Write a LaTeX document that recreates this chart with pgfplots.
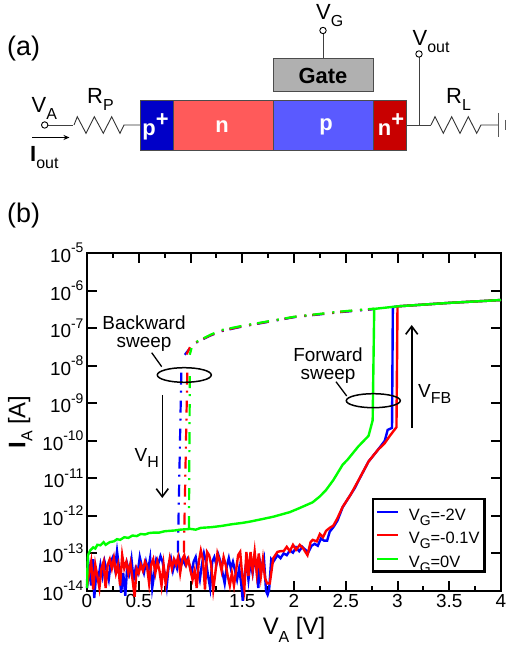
\documentclass[border=0pt]{standalone}
\usepackage{pgfplots}
\pgfplotsset{compat=1.18}
\usepackage{fontspec}
\setmainfont{Liberation Sans}
\usetikzlibrary{arrows.meta}
\newcommand\fs[1]{\fontsize{#1}{#1}\selectfont}
\newcommand\tenexp[1]{10\raisebox{0.5em}{\fs{14}#1}}
\newcommand\dn[1]{\raisebox{-0.3em}{\fs{16}#1}}
\newcommand\ldn[1]{\raisebox{-0.32em}{\fs{14}#1}}
\newcommand\lrow[1]{\rule[-9bp]{0pt}{27bp}\hspace{8bp}#1}
\definecolor{myblue}{RGB}{0,0,255}
\definecolor{myred}{RGB}{255,0,0}
\definecolor{mygreen}{RGB}{0,255,0}
\begin{document}
\begin{tikzpicture}
\useasboundingbox (0,0) rectangle (506bp,645bp);
\begin{axis}[
  at={(87bp,54bp)}, anchor=south west, scale only axis, width=414bp, height=338bp,
  ymode=log, xmin=0, xmax=4, ymin=1e-14, ymax=1e-5, clip=false,
  xtick={0,0.5,1,1.5,2,2.5,3,3.5,4},
  xticklabels={0,0.5,1,1.5,2,2.5,3,3.5,4},
  minor xtick={0.25,0.75,1.25,1.75,2.25,2.75,3.25,3.75},
  ytick={1e-14,1e-13,1e-12,1e-11,1e-10,1e-9,1e-8,1e-7,1e-6,1e-5},
  yticklabels={\tenexp{-14},\tenexp{-13},\tenexp{-12},\tenexp{-11},\tenexp{-10},\tenexp{-9},\tenexp{-8},\tenexp{-7},\tenexp{-6},\tenexp{-5}},
  yminorticks=false,
  tick align=inside, major tick length=10bp, minor tick length=5bp,
  tick style={line width=2bp,black},
  axis line style={line width=2.5bp,black},
  tick label style={font=\fs{19}},
  xlabel={V\dn{A} [V]}, ylabel={\textbf{I}\dn{A} [A]},
  label style={font=\fs{24}},
  xlabel style={at={(axis description cs:0.5,0)},anchor=north,yshift=-23bp},
  ylabel style={at={(axis description cs:0,0.5)},anchor=south,yshift=51bp},
  legend style={at={(axis cs:2.751,3e-12)},anchor=north west,draw=black,line width=2.2bp,fill=white,
    inner xsep=3bp,inner ysep=1bp,font=\fs{16.5},row sep=0bp},
  legend cell align=left,
  legend image code/.code={\draw[#1,line width=2bp] (0bp,0bp) -- (21bp,0bp);},
]
\pgfplotsset{ddash/.style={forget plot,line width=2.2bp,dash pattern=on 12bp off 8bp on 2bp off 6bp},
  ddup/.style={forget plot,line width=2.2bp,dash pattern=on 2bp off 6bp on 12bp off 8bp}}
% backward sweeps, dash-dotted
\addplot[myblue,ddash] coordinates {(0.878,1.05e-13)(0.912,8.7e-9)};
\addplot[myblue,forget plot,line width=2.2bp] coordinates {(0.945,1.95e-8)(0.995,2.95e-8)};
\addplot[myred,ddash] coordinates {(0.936,1.05e-13)(0.97,8.7e-9)};
\addplot[myred,forget plot,line width=2.2bp] coordinates {(0.962,2.0e-8)(0.995,3.1e-8)};
\addplot[mygreen,ddash] coordinates {(0.985,4.7e-13)(0.994,8.7e-9)};
\addplot[mygreen,forget plot,line width=2.2bp] coordinates {(0.993,1.95e-8)(1.01,2.95e-8)};
\addplot[myblue,ddup] coordinates {(1.055,4.1e-8)(1.19,6.3e-8)(1.3,8.3e-8)(1.5,1.1e-7)(2,1.95e-7)(2.44,2.65e-7)(2.775,3.2e-7)};
\addplot[myred,ddup] coordinates {(1.055,4.2e-8)(1.19,6.4e-8)(1.3,8.5e-8)(1.5,1.12e-7)(2,1.98e-7)(2.44,2.7e-7)(2.775,3.25e-7)};
\addplot[mygreen,ddup] coordinates {(1.058,4.3e-8)(1.19,6.6e-8)(1.3,8.9e-8)(1.5,1.15e-7)(2,2e-7)(2.44,2.75e-7)(2.775,3.3e-7)};
% forward sweeps
\addplot[myblue,line width=2.4bp] coordinates {
(0,1.2e-14)(0.02,4e-14)(0.04,1.4e-14)(0.06,7e-14)(0.07,6.5e-15)(0.09,3e-14)(0.11,2.2e-14)(0.13,5e-14)(0.15,2.5e-14)(0.17,6e-14)(0.19,3.5e-14)(0.21,2e-14)(0.23,6e-14)(0.25,8e-14)(0.27,4e-14)(0.29,1.15e-13)(0.31,4e-14)(0.33,9e-15)(0.35,3e-14)(0.37,7.5e-15)(0.39,5e-14)(0.41,3e-14)(0.43,7e-14)(0.45,2e-14)(0.47,4e-14)(0.49,3e-14)(0.51,8e-14)(0.53,4.5e-14)(0.55,3e-14)(0.57,6e-14)(0.59,3.5e-14)(0.61,7.5e-14)(0.63,1.2e-14)(0.65,3e-14)(0.67,7e-14)(0.69,5.5e-14)(0.71,8.5e-14)(0.73,6e-14)(0.75,3e-14)(0.77,1.3e-14)(0.79,5e-14)(0.81,7.5e-14)(0.83,3.5e-14)(0.85,6e-14)(0.87,4e-14)(0.89,8e-14)(0.91,5e-14)(0.93,6.5e-14)(0.95,5e-14)(0.97,7e-14)(0.99,5e-14)(1.01,3e-14)(1.03,6e-14)(1.05,8e-14)(1.07,3.5e-14)(1.09,2e-14)(1.11,5e-14)(1.13,1e-13)(1.15,6e-14)(1.17,2.5e-14)(1.19,1.2e-14)(1.21,6e-14)(1.23,8e-14)(1.25,5e-14)(1.27,9e-14)(1.29,6e-14)(1.31,3e-14)(1.33,1.6e-14)(1.35,4.5e-14)(1.37,7.5e-14)(1.39,4e-14)(1.41,6e-14)(1.43,3.5e-14)(1.45,2e-14)(1.47,4e-14)(1.49,1.6e-14)(1.505,5.5e-15)(1.52,2.5e-14)(1.54,6e-14)(1.56,2e-14)(1.58,6e-14)(1.60,3e-14)(1.62,8.5e-14)(1.64,3.5e-14)(1.655,1.2e-14)(1.67,6.5e-14)(1.69,4e-14)(1.71,7e-14)(1.73,1e-14)(1.745,8e-15)(1.76,1.1e-14)(1.78,7e-14)(1.80,6e-14)(1.84,9e-14)(1.87,7.5e-14)(1.90,1e-13)(1.93,9e-14)(1.96,1.2e-13)(1.99,1.05e-13)(2.02,1.45e-13)(2.05,1.15e-13)(2.08,1.5e-13)(2.11,1.25e-13)(2.14,1.1e-13)(2.17,1.6e-13)(2.2,1.8e-13)(2.23,1.6e-13)(2.26,2.5e-13)(2.29,2.2e-13)(2.32,2.2e-13)(2.345,3.8e-13)(2.38,5e-13)(2.42,7.5e-13)(2.47,1.7e-12)(2.55,3.8e-12)(2.587,5.5e-12)(2.635,1e-11)(2.72,2.8e-11)(2.81,5.7e-11)(2.877,1e-10)(2.905,1.95e-10)(2.947,2.2e-10)(2.955,3.6e-7)(3.0,3.8e-7)(3.5,4.7e-7)(4,5.6e-7)};
\addlegendentry{\lrow{V\ldn{G}=-2V}}
\addplot[myred,line width=2.4bp] coordinates {
(0,1.4e-14)(0.02,3e-14)(0.04,6e-14)(0.06,1.1e-14)(0.08,5e-14)(0.10,2.5e-14)(0.12,1.2e-14)(0.14,4e-14)(0.16,6e-14)(0.18,1.2e-14)(0.20,5e-14)(0.22,7e-14)(0.24,4e-14)(0.26,7.5e-14)(0.28,3e-14)(0.30,5e-14)(0.32,1.4e-14)(0.34,9e-14)(0.36,4e-14)(0.38,6e-14)(0.40,3e-14)(0.42,5.5e-14)(0.44,2e-14)(0.46,7e-15)(0.48,4e-14)(0.50,3e-14)(0.52,5e-14)(0.54,3.5e-14)(0.56,6e-14)(0.58,4.5e-14)(0.60,1.6e-14)(0.62,5e-14)(0.64,7e-14)(0.66,3e-14)(0.68,6e-14)(0.70,3.5e-14)(0.72,1.4e-14)(0.74,5e-14)(0.76,1.6e-14)(0.78,3.5e-14)(0.80,7.5e-14)(0.82,4e-14)(0.84,7e-14)(0.86,5e-14)(0.88,8e-14)(0.90,3e-14)(0.92,7e-14)(0.94,9e-14)(0.96,5e-14)(0.98,7e-14)(1.00,3.5e-14)(1.02,2e-14)(1.04,3.5e-14)(1.06,1.2e-14)(1.08,6e-14)(1.10,1.2e-13)(1.12,7e-14)(1.14,1.1e-14)(1.16,1.1e-13)(1.18,9e-14)(1.20,5e-14)(1.22,1.1e-14)(1.24,3e-14)(1.26,1e-13)(1.28,6.5e-14)(1.30,3.5e-14)(1.32,8e-14)(1.34,5e-14)(1.36,2.5e-14)(1.38,1.4e-14)(1.40,3e-14)(1.42,1.4e-14)(1.44,3.5e-14)(1.46,9e-14)(1.48,1.1e-13)(1.50,2.5e-14)(1.52,1.1e-14)(1.54,1.1e-13)(1.56,2.5e-14)(1.58,1.1e-13)(1.60,3.5e-14)(1.62,1.1e-13)(1.64,3e-14)(1.66,1e-13)(1.68,2.5e-14)(1.70,7e-14)(1.72,2.2e-14)(1.74,1.6e-14)(1.766,1.6e-14)(1.80,7.5e-14)(1.84,1.1e-13)(1.87,1.15e-13)(1.90,1.15e-13)(1.93,1.5e-13)(1.96,1.15e-13)(1.99,1.7e-13)(2.02,1.25e-13)(2.056,1.7e-13)(2.09,1.35e-13)(2.13,9e-14)(2.16,2e-13)(2.18,2.3e-13)(2.22,2.1e-13)(2.25,3.3e-13)(2.28,2.7e-13)(2.31,4e-13)(2.345,4.8e-13)(2.38,5.5e-13)(2.42,8.7e-13)(2.47,1.74e-12)(2.55,3.8e-12)(2.635,1.02e-11)(2.72,2.8e-11)(2.81,5.7e-11)(2.877,8.7e-11)(2.93,1.4e-10)(2.99,2.3e-10)(3.0,3.8e-7)(3.5,4.7e-7)(4,5.6e-7)};
\addlegendentry{\lrow{V\ldn{G}=-0.1V}}
\addplot[mygreen,line width=2.4bp] coordinates {
(0,1.2e-14)(0.005,5e-14)(0.01,9e-14)(0.03,1.2e-13)(0.06,1.45e-13)(0.08,1.35e-13)(0.10,1.7e-13)(0.13,1.65e-13)(0.16,2e-13)(0.18,1.7e-13)(0.22,2e-13)(0.26,2.1e-13)(0.29,2.4e-13)(0.32,2.3e-13)(0.36,2.7e-13)(0.40,2.6e-13)(0.44,3e-13)(0.48,2.9e-13)(0.52,3.3e-13)(0.56,3.2e-13)(0.60,3.5e-13)(0.65,3.6e-13)(0.70,3.6e-13)(0.75,3.9e-13)(0.80,4e-13)(0.85,4.1e-13)(0.90,4.3e-13)(1.0,4.5e-13)(1.05,4.3e-13)(1.1,4.8e-13)(1.2,5e-13)(1.3,5.4e-13)(1.4,6e-13)(1.5,6.5e-13)(1.57,7e-13)(1.7,8.3e-13)(1.8,9.5e-13)(1.96,1.26e-12)(2.05,1.6e-12)(2.18,2.3e-12)(2.25,3.3e-12)(2.31,4.9e-12)(2.38,9e-12)(2.47,2.3e-11)(2.52,3.2e-11)(2.62,7e-11)(2.72,1.35e-10)(2.76,3.5e-10)(2.775,3.25e-7)(3.0,3.8e-7)(3.5,4.7e-7)(4,5.6e-7)};
\addlegendentry{\lrow{V\ldn{G}=0V}}
\end{axis}
\begin{scope}[shift={(0,645bp)},y=-1bp,x=1bp]
% schematic
\tikzset{wire/.style={line width=0.8bp,black!75},zig/.style={line width=0.9bp,black!80}}
\draw[wire] (48,125)--(73,125);
\draw[zig] (74,125)--(77.3,116.7)--(86,133.3)--(94.3,116.7)--(103.3,133.3)--(111.7,116.7)--(120,133.3)--(124,125)--(140.3,125);
\draw[wire] (406.7,125)--(431,125);
\draw[zig] (431,125)--(435,116.7)--(443.3,133.3)--(451.7,116.7)--(460,133.3)--(468.3,116.7)--(476.7,133.3)--(481,125)--(498,125);
\draw[line width=1.5bp,black!65] (498.3,113)--(498.3,137);
\draw[line width=1.5bp,black!65] (505.3,120)--(505.3,130);
\draw[wire] (419,125)--(419,57);
\draw[wire] (323,58)--(323,34);
\draw[line width=0.9bp,black,fill=white] (44.7,125) circle (3.2);
\draw[line width=0.9bp,black,fill=white] (419,54) circle (3.2);
\draw[line width=0.9bp,black,fill=white] (323,30.5) circle (3.2);
\draw[line width=1bp,-{Stealth[length=6bp,width=5bp]}] (32,137.5)--(69.5,137.5);
\tikzset{box/.style={draw=black!70,line width=0.8bp}}
\fill[fill={rgb,255:red,0;green,0;blue,200},box] (140.3,100) rectangle (173.7,150);
\fill[fill={rgb,255:red,255;green,90;blue,90},box] (173.7,100) rectangle (273.3,150);
\fill[fill={rgb,255:red,90;green,90;blue,255},box] (273.3,100) rectangle (373,150);
\fill[fill={rgb,255:red,200;green,0;blue,0},box] (373,100) rectangle (406.7,150);
\fill[fill={rgb,255:red,176;green,176;blue,176},box] (273.3,58.5) rectangle (373,91.7);
\node[font=\fs{22}\bfseries] at (323,76) {Gate};
\node[font=\fs{22}\bfseries,text=white] at (155.5,127) {p\raisebox{0.42em}{+}};
\node[font=\fs{22}\bfseries,text=white] at (222,127) {n};
\node[font=\fs{22}\bfseries,text=white] at (326,127) {p};
\node[font=\fs{22}\bfseries,text=white] at (391,124.5) {n\raisebox{0.42em}{+}};
\node[font=\fs{27},anchor=west,inner sep=0] at (7,49) {(a)};
\node[font=\fs{27},anchor=west,inner sep=0] at (7,216) {(b)};
\node[font=\fs{22},anchor=base west,inner sep=0] at (31.5,113) {V\dn{A}};
\node[font=\fs{22},anchor=base west,inner sep=0] at (87,104) {R\dn{P}};
\node[font=\fs{22},anchor=base west,inner sep=0] at (30,161.5) {\textbf{I}\dn{out}};
\node[font=\fs{22},anchor=base west,inner sep=0] at (316,20) {V\dn{G}};
\node[font=\fs{22},anchor=base west,inner sep=0] at (412.5,46) {V\dn{out}};
\node[font=\fs{22},anchor=base west,inner sep=0] at (446,104) {R\dn{L}};
% annotations
\node[font=\fs{19},align=center,inner sep=0] at (144,333.5) {Backward\\[-1bp]sweep};
\node[font=\fs{19},align=center,inner sep=0] at (328,366) {Forward\\[-1bp]sweep};
\draw[line width=1.3bp] (151.7,352.7)--(161.7,366.7);
\draw[line width=1.5bp] (184.3,375) ellipse (27 and 7.3);
\draw[line width=1.3bp] (336,381.7)--(346.7,396);
\draw[line width=1.5bp] (373.3,400.7) ellipse (27 and 7);
\draw[line width=1.6bp,-{Straight Barb[length=8bp,width=12bp,line width=1.6bp]}] (162.3,395)--(162.3,498);
\draw[line width=1.6bp,-{Straight Barb[length=8bp,width=12bp,line width=1.6bp]}] (411.7,428)--(411.7,325);
\node[font=\fs{19},anchor=base west,inner sep=0] at (134.5,462) {V\dn{H}};
\node[font=\fs{19},anchor=base west,inner sep=0] at (418,398) {V\dn{FB}};
\end{scope}
\end{tikzpicture}
\end{document}
